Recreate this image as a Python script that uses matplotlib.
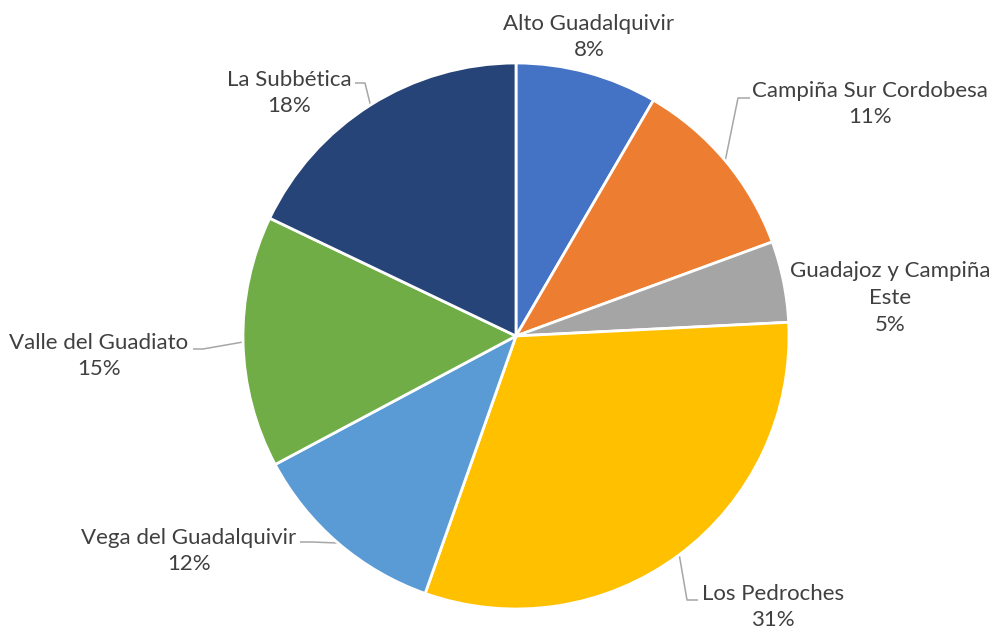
import numpy as np
import matplotlib
matplotlib.use("Agg")
import matplotlib.pyplot as plt

# ---- data ----
categories = ["Alto Guadalquivir", "Campiña Sur Cordobesa", "Guadajoz y Campiña\nEste",
              "Los Pedroches", "Vega del Guadalquivir", "Valle del Guadiato", "La Subbética"]
values = [8.4, 11.0, 4.8, 31.2, 11.8, 14.9, 17.9]
colors = ["#4472C4", "#ED7D31", "#A5A5A5", "#FFC000", "#5B9BD5", "#70AD47", "#264478"]

# ---- layout (pixel-like coordinates, y measured from top) ----
W, H = 993, 631
center_px = (516, 336)
radius_px = 273
label_pos = [(589, 37), (870, 104), (890, 298), (773, 607), (189, 551), (99, 356), (289, 93)]
# leader lines: (elbow, end) or None
leaders = [None, ((738, 98), (750, 98)), None, ((687, 600), (698, 600)),
           ((312, 542), (300, 542)), ((203, 349), (193, 349)), ((365, 83), (355, 83))]

fig = plt.figure(figsize=(W / 100, H / 100), dpi=100)
ax = fig.add_axes([0, 0, 1, 1])

cx, cy = center_px[0], H - center_px[1]
wedges, _ = ax.pie(values, colors=colors, startangle=90, counterclock=False,
                   center=(cx, cy), radius=radius_px, frame=True,
                   wedgeprops=dict(edgecolor="white", linewidth=2))
ax.set_xlim(0, W)
ax.set_ylim(0, H)
ax.set_aspect("equal")
ax.axis("off")

total = sum(values)
for w, name, v, (lx, ly), ld in zip(wedges, categories, values, label_pos, leaders):
    pct = int(round(v / total * 100))
    ax.text(lx, H - ly, f"{name}\n{pct}%", ha="center", va="center",
            fontsize=16, color="#404040", family=["Lato", "DejaVu Sans"], linespacing=1.42)
    if ld is not None:
        mid = np.deg2rad((w.theta1 + w.theta2) / 2)
        ex = cx + radius_px * np.cos(mid)
        ey = cy + radius_px * np.sin(mid)
        (bx, by), (tx, ty) = ld
        ax.plot([ex, bx, tx], [ey, H - by, H - ty], color="#A6A6A6", lw=1.1,
                solid_capstyle="butt", zorder=0.5)

fig.savefig("out.png", dpi=100)
